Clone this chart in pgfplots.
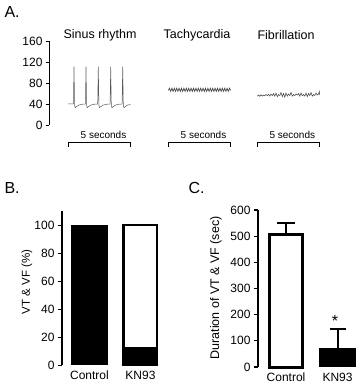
\documentclass[border=0pt]{standalone}
\usepackage{fontspec}
\setmainfont{Liberation Sans}
\usepackage{pgfplots}
\pgfplotsset{compat=1.18}
\begin{document}
\begin{tikzpicture}[x=1bp,y=-1bp]
\path[use as bounding box] (0,0) rectangle (359,384);

% ---------------- Panel A ----------------
\node[anchor=west,font=\fontsize{16bp}{18bp}\selectfont] at (1,12) {A.};
\begin{axis}[
  at={(49bp,-125bp)}, anchor=south west, scale only axis,
  width=281bp, height=84bp,
  xmin=49, xmax=330, ymin=0, ymax=160,
  axis y line*=left, axis x line=none,
  ytick={0,40,80,120,160}, tick align=outside, major tick length=3bp,
  every tick/.style={black, line width=0.8bp},
  y axis line style={line width=0.8bp},
  /pgf/number format/assume math mode=true,
  yticklabel style={font=\fontsize{12bp}{13bp}\selectfont},
  clip=false,
]
% Sinus rhythm
\addplot[gray!70!black, line width=0.5bp] coordinates {
(68,40) (73.4,40.5) (74,111) (74.6,38) (75.2,33) (76.5,35) (79,38) (82,39.5)
(85.4,40) (86,111) (86.6,38) (87.2,33) (88.5,35) (91,38) (94,39.5)
(97.7,40) (98.3,111) (98.9,38) (99.5,33) (100.8,35) (103,38) (107,39.5)
(110.1,40) (110.7,111) (111.3,38) (111.9,33) (113.2,35) (115.5,38) (119,39.5)
(122.1,40) (122.7,111) (123.3,38) (123.9,33) (125.2,35) (127.5,38) (130.5,39)
};
% Tachycardia
\addplot[gray!60!black, line width=0.7bp] coordinates {
(168.3,66) (169.5,70) (170.7,64) (171.9,70) (173.1,64) (174.3,70) (175.5,64)
(176.7,70) (177.9,64) (179.1,70) (180.3,64) (181.5,70) (182.7,64) (183.9,70)
(185.1,64) (186.3,70) (187.5,64) (188.7,70) (189.9,64) (191.1,70) (192.3,64)
(193.5,70) (194.7,64) (195.9,70) (197.1,64) (198.3,70) (199.5,64) (200.7,70)
(201.9,64) (203.1,70) (204.3,64) (205.5,70) (206.7,64) (207.9,70) (209.1,64)
(210.3,70) (211.5,64) (212.7,70) (213.9,64) (215.1,70) (216.3,64) (217.5,70)
(218.7,64) (219.9,70) (221.1,64) (222.3,70) (223.5,64) (224.7,70) (225.9,64)
(227.1,70) (228.3,64) (229.5,70) (230.7,66)
};
% Fibrillation
\addplot[black!75, line width=0.5bp] coordinates {
(257.3,55) (258.5,57) (259.8,54.5) (261,57.5) (262.3,55) (263.5,57) (264.8,55.5)
(266,58) (267.3,56) (268.5,58.5) (269.8,55) (271,59) (272.3,56) (273.5,60)
(274.8,55) (276,61) (277.3,54) (278.5,58) (279.8,56) (281,62) (282.3,54)
(283.5,60) (284.8,53) (286,61) (287.3,55) (288.5,59) (289.8,56) (291,62)
(292.3,55) (293.5,58) (294.8,56) (296,59) (297.3,57) (298.5,60) (299.8,55)
(301,61) (302.3,56) (303.5,58) (304.8,55) (306,61) (307.3,54) (308.5,60)
(309.8,56) (311,62) (312.3,55) (313.5,58) (314.8,56) (316,61) (317.3,57)
(318.5,59) (319.3,64) (319.8,57)
};
\end{axis}
\node[font=\fontsize{12.5bp}{14bp}\selectfont] at (100,35) {Sinus rhythm};
\node[font=\fontsize{12.5bp}{14bp}\selectfont] at (197,35) {Tachycardia};
\node[font=\fontsize{12.5bp}{14bp}\selectfont] at (286,35) {Fibrillation};
\foreach \a/\b in {68.3/130.7, 168.3/230.7, 257.3/319.3}{
  \draw[line width=0.8bp] (\a,147) -- (\a,142) -- (\b,142) -- (\b,147);
  \node[font=\fontsize{10bp}{11bp}\selectfont] at ({(\a+\b)/2+4},135) {5 seconds};
}

% ---------------- Panel B ----------------
\node[anchor=west,font=\fontsize{16bp}{18bp}\selectfont] at (1,188) {B.};
\begin{axis}[
  at={(62bp,-365bp)}, anchor=south west, scale only axis,
  width=97bp, height=154bp,
  xmin=-0.539, xmax=1.363, ymin=0, ymax=110,
  axis y line*=left, axis x line*=bottom,
  x axis line style={draw=none},
  xtick={0,1}, xticklabels={Control,KN93},
  x tick style={draw=none},
  xticklabel style={yshift=1.5bp},
  ytick={0,20,40,60,80,100}, tick align=outside, major tick length=4bp,
  y tick style={black, line width=1bp},
  y axis line style={line width=1.2bp},
  /pgf/number format/assume math mode=true,
  ticklabel style={font=\fontsize{12bp}{13bp}\selectfont},
  clip=false,
]
\addplot[ybar, bar width=37bp, fill=black, draw=none] coordinates {(0,100)};
\addplot[ybar, bar width=33.5bp, fill=white, draw=black, line width=2.5bp] coordinates {(1,100)};
\addplot[ybar, bar width=36bp, fill=black, draw=none] coordinates {(1,13)};
\end{axis}
\node[rotate=90,font=\fontsize{11.5bp}{13bp}\selectfont] at (27,282) {VT \& VF (\%)};

% ---------------- Panel C ----------------
\node[anchor=west,font=\fontsize{16bp}{18bp}\selectfont] at (185,188) {C.};
\begin{axis}[
  at={(258bp,-367bp)}, anchor=south west, scale only axis,
  width=101bp, height=157bp,
  xmin=-0.544, xmax=1.417, ymin=0, ymax=600,
  axis y line*=left, axis x line*=bottom,
  x axis line style={draw=none},
  xtick={0,1}, xticklabels={Control,KN93},
  x tick style={draw=none},
  xticklabel style={yshift=1.5bp},
  ytick={0,100,...,600}, tick align=outside, major tick length=4bp,
  y tick style={black, line width=1.2bp},
  y axis line style={line width=1.5bp},
  /pgf/number format/assume math mode=true,
  ticklabel style={font=\fontsize{12bp}{13bp}\selectfont},
  clip=false,
]
\addplot[ybar, bar width=33bp, fill=white, draw=black, line width=3bp,
  error bars/.cd, y dir=plus, y explicit,
  error bar style={line width=2bp}, error mark options={line width=2bp, mark size=9bp, rotate=90}]
  coordinates {(0,505) +- (0,45)};
\addplot[ybar, bar width=37bp, fill=black, draw=none,
  error bars/.cd, y dir=plus, y explicit,
  error bar style={line width=2bp}, error mark options={line width=2bp, mark size=8bp, rotate=90}]
  coordinates {(1,72) +- (0,72)};
\node[font=\fontsize{16bp}{18bp}\selectfont] at (axis cs:0.95,175) {*};
\end{axis}
\node[rotate=90,font=\fontsize{12.5bp}{14bp}\selectfont] at (216,288) {Duration of VT \& VF (sec)};
\end{tikzpicture}
\end{document}
